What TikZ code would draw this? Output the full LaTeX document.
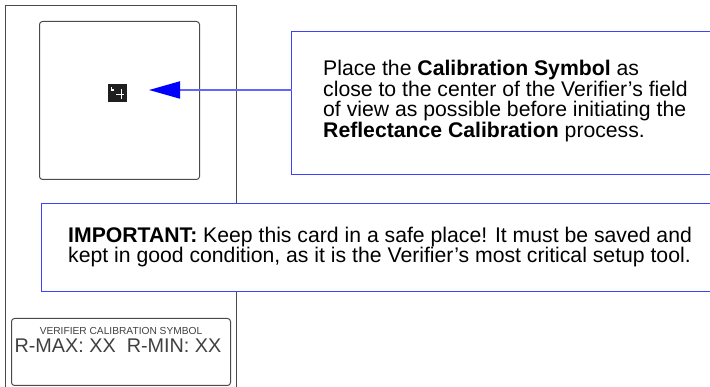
\documentclass[tikz,border=0pt]{standalone}
\usepackage{fontspec}
\setmainfont{Liberation Sans}
\usepackage{xcolor}
\usetikzlibrary{arrows.meta}

\definecolor{cardgray}{HTML}{4A4A4A}
\definecolor{notebl}{HTML}{4040FF}
\definecolor{arrowbl}{HTML}{6464FF}
\definecolor{labelgray}{HTML}{404040}

\begin{document}
\begin{tikzpicture}[x=1pt, y=-1pt,
    cardline/.style={draw=cardgray, line width=1pt},
    noteline/.style={draw=notebl, line width=1.5pt},
    notetext/.style={align=left, inner sep=0pt, anchor=base west,
        font=\fontsize{21.2}{20.6}\selectfont},
    symbolbox/.style={fill=black!88, minimum width=19pt, minimum height=18pt, inner sep=0pt},
    pointer/.style={color=arrowbl, line width=1.8pt,
        -{Triangle[length=31pt, width=17pt, fill=blue, color=blue]}}]

    % ==========================================
    % PAGE SIZE
    % ==========================================
    \useasboundingbox (0,0) rectangle (710,387);

    % ==========================================
    % DEFINE COORDINATES
    % ==========================================
    \def\cardL{5.5}
    \def\cardR{236.5}
    \def\pageB{387}

    \coordinate (symtip) at (149,90);
    \coordinate (noteL)  at (291.5,90);

    % ==========================================
    % DRAW THE CARD
    % ==========================================

    % outer card edge, cut off at the bottom
    \draw[cardline] (\cardL,\pageB) -- (\cardL,5.5) -- (\cardR,5.5) -- (\cardR,\pageB);

    % field of view square
    \draw[cardline, rounded corners=3pt] (39.5,21.5) rectangle (199.5,179.5);

    % calibration symbol
    \node[symbolbox] (sym) at (117.5,93) {};
    \fill[white] (111.2,87.5) rectangle (112.4,90.6);
    \fill[white] (112.4,89.4) rectangle (114.2,90.6);
    \fill[white] (115.8,94) rectangle (118.6,95.2);
    \fill[white] (120.8,89.5) rectangle (122,99);
    \fill[white] (119.4,94) rectangle (124.2,95.2);

    % label box at the bottom of the card
    \draw[cardline, rounded corners=3pt] (11.5,318.5) rectangle (230.5,385.5);
    \node[anchor=base, inner sep=0pt, text=labelgray, font=\fontsize{10.2}{12}\selectfont]
        (calhead) at (121,335) {VERIFIER CALIBRATION SYMBOL};
    \node[anchor=base, inner sep=0pt, text=labelgray, font=\fontsize{19.8}{22}\selectfont]
        (rvals) at (118,352.7) {R-MAX: XX\ \ R-MIN: XX};

    % ==========================================
    % DRAW THE NOTES
    % ==========================================

    % placing note, open to the right
    \draw[noteline] (710,31.5) -- (291.5,31.5) -- (291.5,174.5) -- (710,174.5);
    \node[notetext] (place) at (323,137.3)
        {Place the \textbf{Calibration Symbol} as\\
         close to the center of the Verifier’s field\\
         of view as possible before initiating the\\
         \textbf{Reflectance Calibration} process.};

    % arrow to the symbol
    \draw[pointer] (noteL) -- (symtip);

    % important note, laid over the card edge
    \fill[white] (41.5,203.5) rectangle (710,291.5);
    \draw[noteline] (710,203.5) -- (41.5,203.5) -- (41.5,291.5) -- (710,291.5);
    \node[notetext] (important) at (68,263)
        {\textbf{IMPORTANT:} Keep this card in a safe place! It must be saved and\\
         kept in good condition, as it is the Verifier’s most critical setup tool.};

\end{tikzpicture}
\end{document}
